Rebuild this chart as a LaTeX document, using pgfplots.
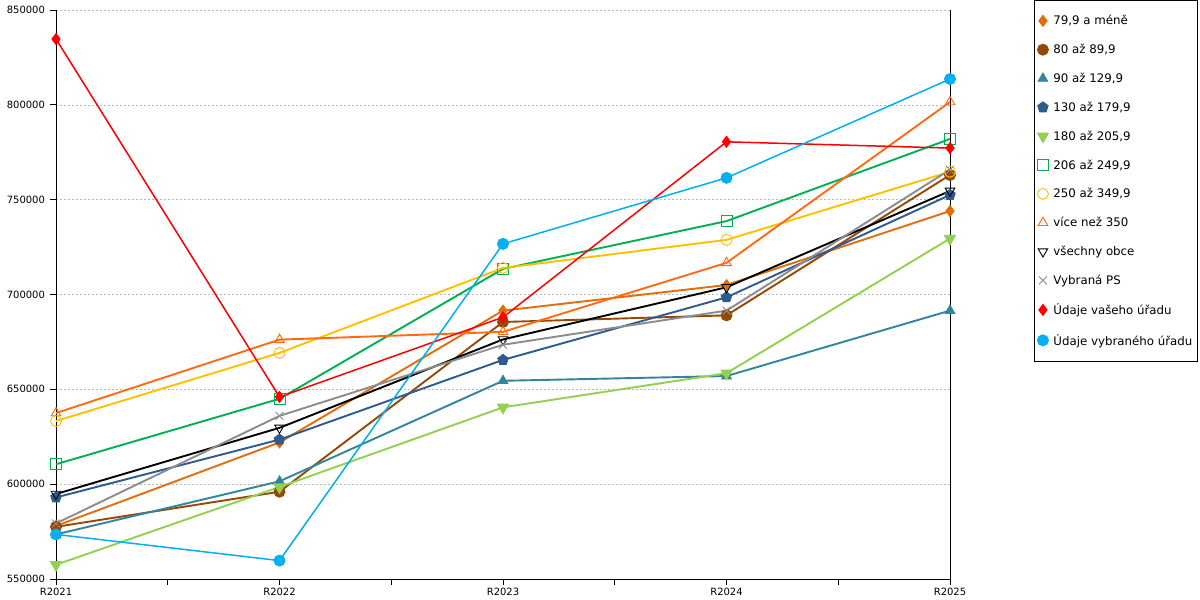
\documentclass[border=0pt]{standalone}
\usepackage{pgfplots}
\pgfplotsset{compat=1.18}
\usepackage{fontspec}
\setmainfont{DejaVu Sans}
\definecolor{cA}{HTML}{E46C0A}
\definecolor{cB}{HTML}{974806}
\definecolor{cC}{HTML}{31859C}
\definecolor{cD}{HTML}{2F5A8F}
\definecolor{cE}{HTML}{92D050}
\definecolor{cF}{HTML}{00B050}
\definecolor{cG}{HTML}{FFC000}
\definecolor{cH}{HTML}{FF6A13}
\definecolor{cI}{HTML}{000000}
\definecolor{cJ}{HTML}{8C8C8C}
\definecolor{cK}{HTML}{FF0000}
\definecolor{cL}{HTML}{00B0F0}
\begin{document}
\begin{tikzpicture}
\useasboundingbox[fill=white] (0,0) rectangle (1200pt,600pt);
\begin{axis}[
  at={(56pt,21pt)}, anchor=south west,
  width=894pt, height=569pt, scale only axis,
  xmin=0, xmax=4, ymin=550000, ymax=850000,
  axis x line*=bottom, axis y line*=left,
  xtick={0,1,2,3,4}, xticklabels={R2021,R2022,R2023,R2024,R2025},
  minor xtick={0.5,1.5,2.5,3.5},
  ytick={550000,600000,650000,700000,750000,800000,850000},
  yticklabels={550000,600000,650000,700000,750000,800000,850000},
  scaled y ticks=false,
  tick label style={font=\fontsize{10}{12}\selectfont},
  yticklabel style={xshift=-1.5pt},
  tick align=outside,
  major tick length=6pt, minor tick length=6pt,
  tick style={black, line width=0.8pt},
  axis line style={black, line width=0.8pt},
  ymajorgrids,
  major grid style={gray!55, dash pattern=on 2pt off 2pt, line width=0.6pt},
  extra x ticks={4}, extra x tick labels={},
  extra x tick style={xmajorgrids=true, major grid style={black, solid, line width=0.9pt}, major tick length=0pt},
  clip=false,
  legend cell align=left,
  legend style={at={(1.0940,1.0176)}, anchor=north west, draw=black, line width=0.8pt,
    font=\fontsize{11.8}{13}\selectfont, row sep=13.9pt, inner xsep=3pt, inner ysep=13pt,
    /tikz/every odd column/.append style={column sep=3pt}},
  legend image code/.code={\draw[#1, only marks] plot coordinates {(0.3em,0pt)};},
  every axis plot/.append style={line width=1.9pt, mark size=5.5pt, mark options={solid, line width=0.9pt}},
]
\addplot[color=cA, mark=diamond*] coordinates {(0,578000) (1,622000) (2,691500) (3,705000) (4,744000)};
\addlegendentry{79,9 a méně}
\addplot[color=cB, mark=*] coordinates {(0,577500) (1,596000) (2,685500) (3,689000) (4,763000)};
\addlegendentry{80 až 89,9}
\addplot[color=cC, mark=triangle*] coordinates {(0,573500) (1,601500) (2,654500) (3,657000) (4,691500)};
\addlegendentry{90 až 129,9}
\addplot[color=cD, mark=pentagon*] coordinates {(0,593000) (1,623500) (2,665500) (3,698500) (4,752500)};
\addlegendentry{130 až 179,9}
\addplot[color=cE, mark=triangle*, mark options={solid, rotate=180}] coordinates {(0,557500) (1,598500) (2,640500) (3,658500) (4,729500)};
\addlegendentry{180 až 205,9}
\addplot[color=cF, mark=square, mark options={solid, draw=cF, line width=0.9pt}] coordinates {(0,610500) (1,645000) (2,713500) (3,738700) (4,782000)};
\addlegendentry{206 až 249,9}
\addplot[color=cG, mark=o] coordinates {(0,633300) (1,669200) (2,714000) (3,728800) (4,764700)};
\addlegendentry{250 až 349,9}
\addplot[color=cH, mark=triangle] coordinates {(0,637500) (1,676200) (2,680300) (3,716700) (4,801500)};
\addlegendentry{více než 350}
\addplot[color=cI, mark=triangle, mark options={solid, rotate=180, line width=0.9pt}] coordinates {(0,594800) (1,629700) (2,676300) (3,703800) (4,754600)};
\addlegendentry{všechny obce}
\addplot[color=cJ, mark=x] coordinates {(0,579300) (1,636000) (2,673500) (3,691500) (4,765800)};
\addlegendentry{Vybraná PS}
\addplot[color=cK, mark=diamond*, line width=1.5pt] coordinates {(0,834700) (1,646000) (2,688000) (3,780500) (4,777200)};
\addlegendentry{Údaje vašeho úřadu}
\addplot[color=cL, mark=*, line width=1.5pt] coordinates {(0,573500) (1,559700) (2,726700) (3,761500) (4,813600)};
\addlegendentry{Údaje vybraného úřadu}
\end{axis}
\end{tikzpicture}
\end{document}
